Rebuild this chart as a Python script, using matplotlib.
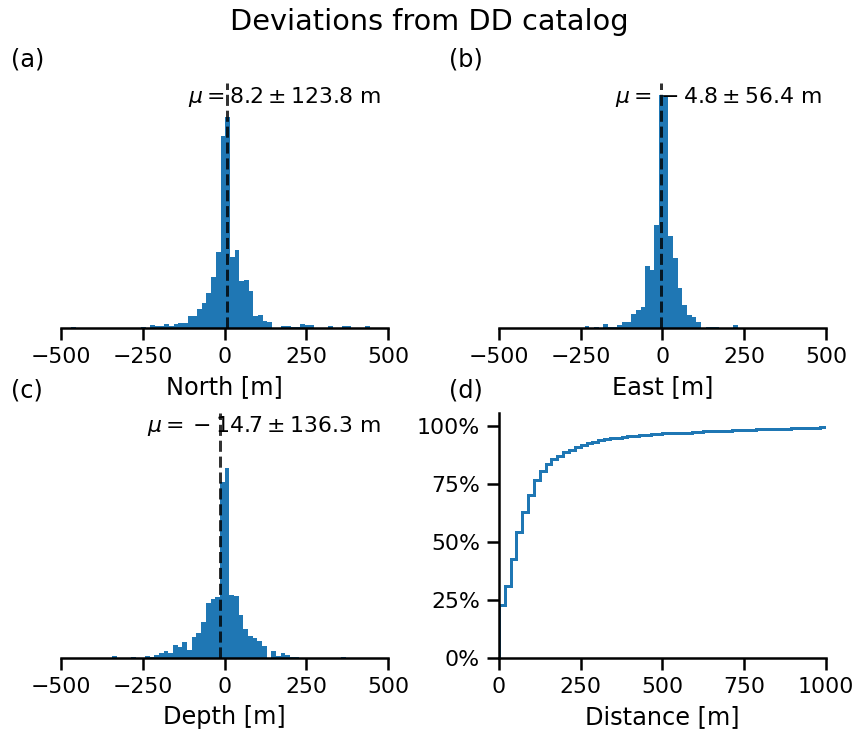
import numpy as np
import matplotlib
matplotlib.use("Agg")
import matplotlib.pyplot as plt
from matplotlib.ticker import PercentFormatter

# ---------------- data ----------------
hist_edges_north = np.linspace(-498, 502, 71)
counts_north = [0, 0, 4, 0, 0, 0, 0, 0, 0, 0,
                0, 0, 0, 0, 0, 0, 0, 4, 0, 8,
                5, 7, 12, 5, 12, 15, 15, 37, 37, 57,
                75, 105, 152, 225, 573, 627, 211, 233, 140, 142,
                111, 36, 38, 20, 18, 0, 0, 7, 6, 4,
                4, 12, 8, 8, 0, 0, 0, 5, 0, 0,
                5, 5, 0, 0, 0, 5, 0, 0, 0, 0]

hist_edges_east = np.linspace(-507.3, 486.7, 71)
counts_east = [0, 0, 0, 1, 0, 0, 1, 0, 0, 1,
               0, 0, 0, 1, 0, 0, 1, 0, 0, 5,
               0, 3, 0, 11, 3, 3, 10, 18, 18, 42,
               53, 63, 186, 172, 306, 695, 690, 273, 210, 118,
               70, 39, 32, 18, 0, 4, 4, 4, 0, 0,
               0, 9, 0, 0, 0, 0, 0, 0, 0, 0,
               0, 0, 0, 0, 0, 0, 0, 0, 0, 0]

hist_edges_depth = np.linspace(-500, 500, 71)
counts_depth = [0, 0, 2, 2, 0, 0, 0, 2, 2, 2,
                0, 7, 0, 0, 0, 3, 0, 0, 7, 4,
                11, 15, 22, 15, 39, 35, 49, 25, 63, 75,
                109, 165, 177, 183, 525, 567, 190, 187, 128, 88,
                67, 60, 53, 38, 0, 21, 7, 15, 10, 4,
                4, 0, 0, 1, 1, 1, 1, 0, 0, 0,
                4, 0, 1, 0, 0, 0, 0, 0, 1, 1]

means = [8.2, -4.8, -14.7]
stds = [123.8, 56.4, 136.3]
xlabels = ["North [m]", "East [m]", "Depth [m]"]
panel_labels = ["(a)", "(b)", "(c)", "(d)"]
hist_ticks = [-500, -250, 0, 250, 500]

dist_bin_width = 17.85
dist_cum_frac = [0.230, 0.311, 0.426, 0.542, 0.628, 0.702, 0.768, 0.805, 0.838, 0.858,
                 0.872, 0.887, 0.896, 0.910, 0.919, 0.926, 0.933, 0.941, 0.944, 0.947,
                 0.950, 0.953, 0.956, 0.958, 0.960, 0.963, 0.965, 0.966, 0.968, 0.969,
                 0.971, 0.971, 0.972, 0.974, 0.975, 0.977, 0.977, 0.978, 0.980, 0.980,
                 0.981, 0.981, 0.983, 0.984, 0.986, 0.986, 0.987, 0.988, 0.989, 0.989,
                 0.990, 0.990, 0.990, 0.991, 0.992, 0.994, 0.995, 0.996, 0.997, 0.998,
                 0.999, 1.000]
dist_edges = np.arange(len(dist_cum_frac) + 1) * dist_bin_width
dist_ticks = [0, 250, 500, 750, 1000]
pct_ticks = [0, 0.25, 0.5, 0.75, 1.0]

# ---------------- style ----------------
plt.rcParams.update({
    "font.family": ["DejaVu Sans"],
    "font.size": 12,
    "axes.labelsize": 12,
    "xtick.labelsize": 11,
    "ytick.labelsize": 11,
    "figure.titlesize": 14.4,
    "axes.linewidth": 1.25,
    "xtick.major.width": 1.25,
    "ytick.major.width": 1.25,
    "xtick.major.size": 6,
    "ytick.major.size": 6,
    "lines.linewidth": 1.5,
    "text.color": "black",
    "axes.labelcolor": "black",
    "axes.edgecolor": "black",
    "xtick.color": "black",
    "ytick.color": "black",
})

fig, axes = plt.subplots(2, 2, figsize=(859 / 144, 737 / 144), dpi=144)
fig.subplots_adjust(left=61 / 859, right=826 / 859, top=1 - 83 / 737,
                    bottom=1 - 658.3 / 737, wspace=0.339, hspace=0.348)
ax_a, ax_b, ax_c, ax_d = axes.flat
ax_b.sharey(ax_a)
ax_c.sharey(ax_a)

hists = [(ax_a, hist_edges_north, counts_north),
         (ax_b, hist_edges_east, counts_east),
         (ax_c, hist_edges_depth, counts_depth)]
text_right = [0.978, 0.988, 0.978]
text_y = [0.942, 0.942, 0.95]

for i, (ax, edges, counts) in enumerate(hists):
    ax.hist(edges[:-1], bins=edges, weights=counts, color="C0")
    ax.axvline(means[i], color="k", ls="--", alpha=0.8)
    m = means[i]
    if m < 0:
        mtxt = rf"$\mu = {{}}-{abs(m)} \pm {stds[i]}$ m"
    else:
        mtxt = rf"$\mu = {m} \pm {stds[i]}$ m"
    ax.text(text_right[i], text_y[i], mtxt,
            transform=ax.transAxes, ha="right", va="center", fontsize=11)
    ax.set_xlim(-500, 500)
    ax.set_xticks(hist_ticks)
    ax.set_xlabel(xlabels[i])
    for s in ("left", "top", "right"):
        ax.spines[s].set_visible(False)
    ax.tick_params(axis="y", left=False, labelleft=False)

ax_d.stairs(dist_cum_frac, dist_edges, baseline=0, color="C0", lw=1.5)
ax_d.set_xlim(0, 1000)
ax_d.set_xticks(dist_ticks)
ax_d.set_yticks(pct_ticks)
ax_d.yaxis.set_major_formatter(PercentFormatter(1.0, decimals=0))
ax_d.set_ylim(0, 1.055)
ax_d.set_xlabel("Distance [m]")
for s in ("top", "right"):
    ax_d.spines[s].set_visible(False)

for ax, lab in zip(axes.flat, panel_labels):
    ax.text(-0.153, 1.094, lab, transform=ax.transAxes, ha="left",
            va="center", fontsize=12)

fig.suptitle("Deviations from DD catalog", y=0.970, va="center")

fig.savefig("out.png", dpi=144)
